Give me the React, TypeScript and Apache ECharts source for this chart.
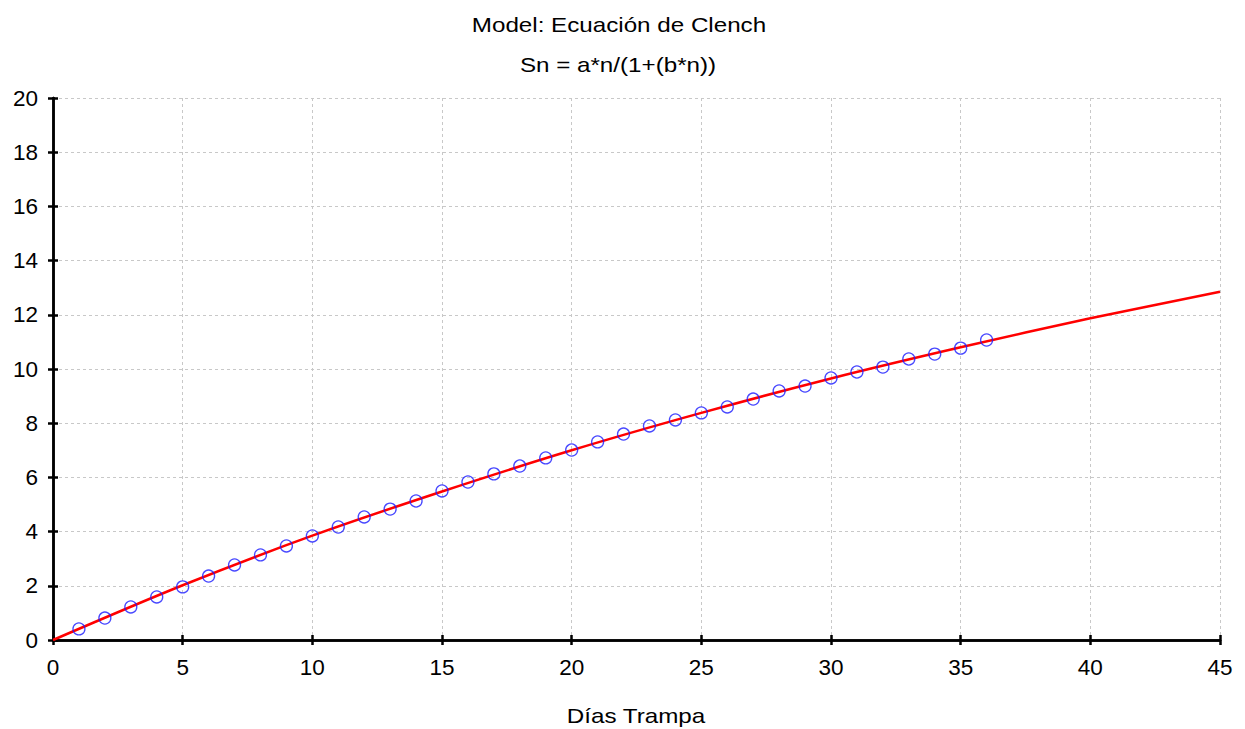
import React, { useEffect, useRef } from "react";
import * as echarts from "echarts";

const titleLine1 = "Model: Ecuación de Clench";
const titleLine2 = "Sn = a*n/(1+(b*n))";
const xName = "Días Trampa";

const days = [1,2,3,4,5,6,7,8,9,10,11,12,13,14,15,16,17,18,19,20,21,22,23,24,25,26,27,28,29,30,31,32,33,34,35,36];
const observed = [0.41,0.81,1.22,1.59,1.96,2.36,2.77,3.14,3.47,3.84,4.17,4.54,4.83,5.13,5.5,5.83,6.13,6.42,6.72,7.01,7.31,7.6,7.9,8.12,8.38,8.6,8.89,9.19,9.37,9.67,9.89,10.07,10.37,10.55,10.77,11.07];

const curveX = [0,5,10,15,20,25,30,35,40,45];
const curveY = [0,2.02,3.85,5.48,7.0,8.38,9.65,10.8,11.87,12.85];

const FONT = "'Liberation Sans', Arial, sans-serif";

export default function App() {
  const ref = useRef<HTMLDivElement>(null);
  useEffect(() => {
    const chart = echarts.init(ref.current!, null, { renderer: "svg" });
    const axisLine = { show: true, lineStyle: { color: "#000", width: 2.5 } };
    const tick = { show: true, inside: true, length: 5, lineStyle: { color: "#000", width: 2.5 } };
    const split = { show: true, lineStyle: { color: "#c8c8c8", type: [3, 3], width: 1 } };
    const txt = (text: string, x: number, y: number) => ({
      type: "text",
      x, y,
      scaleX: 1.18,
      style: { text, fontFamily: FONT, fontSize: 20.5, fill: "#000", align: "center", verticalAlign: "middle" },
    });
    chart.setOption({
      animation: false,
      backgroundColor: "#fff",
      graphic: [
        txt(titleLine1, 619, 25),
        txt(titleLine2, 618, 65),
        txt(xName, 636, 716),
      ],
      grid: { left: 53, right: 25, top: 98, bottom: 89, containLabel: false },
      xAxis: [
        {
          type: "value", min: 0, max: 45, interval: 5,
          axisLine, axisTick: tick, splitLine: split,
          axisLabel: { fontFamily: FONT, fontSize: 22.5, color: "#000", margin: 16 },
        },
        {
          type: "value", position: "top", min: 0, max: 45, interval: 5,
          axisLine, axisTick: tick, splitLine: { show: false }, axisLabel: { show: false },
        },
      ],
      yAxis: [
        {
          type: "value", min: 0, max: 20, interval: 2,
          axisLine, axisTick: tick, splitLine: split,
          axisLabel: { fontFamily: FONT, fontSize: 22.5, color: "#000", margin: 15 },
        },
        {
          type: "value", position: "right", min: 0, max: 20, interval: 2,
          axisLine, axisTick: tick, splitLine: { show: false }, axisLabel: { show: false },
        },
      ],
      series: [
        {
          type: "line",
          data: curveX.map((x, i) => [x, curveY[i]]),
          smooth: 0.3,
          showSymbol: false,
          lineStyle: { color: "#ff0000", width: 2.5 },
          z: 2,
        },
        {
          type: "scatter",
          data: days.map((d, i) => [d, observed[i]]),
          symbol: "circle",
          symbolSize: 12,
          itemStyle: { color: "rgba(0,0,0,0)", borderColor: "#1a1aff", borderWidth: 1.3 },
          z: 3,
        },
      ],
    });
    return () => chart.dispose();
  }, []);
  return <div ref={ref} style={{ position: "absolute", left: 0, top: 0, width: 1245, height: 729 }} />;
}
